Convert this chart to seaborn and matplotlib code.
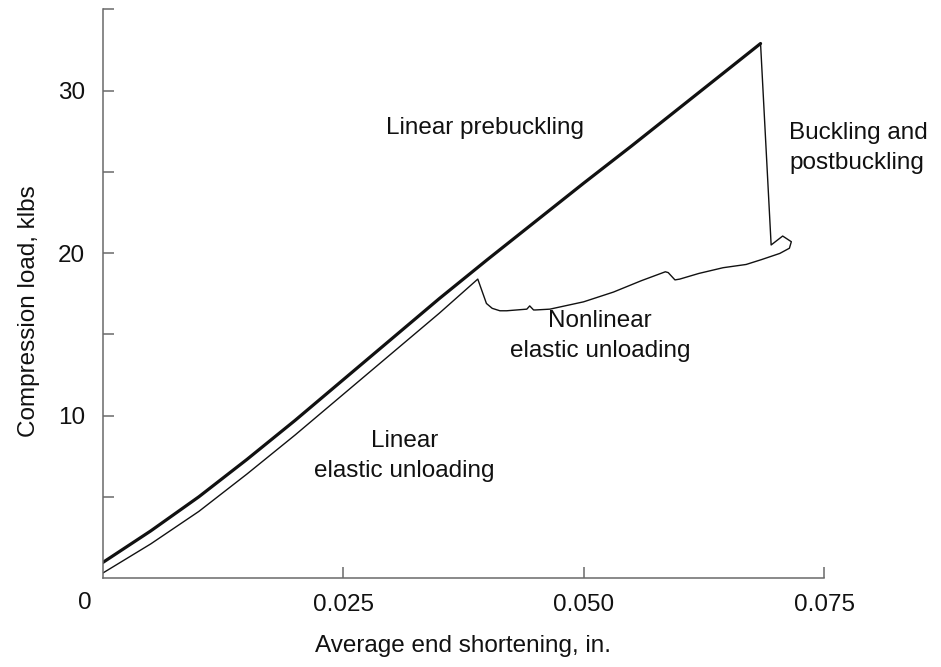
import matplotlib
matplotlib.use("Agg")
import matplotlib.pyplot as plt
import numpy as np
import pandas as pd
import seaborn as sns

# Load-shortening path of the compression specimen (in., klbs)
prebuckling_x = [0.0, 0.005, 0.010, 0.015, 0.020, 0.025, 0.030, 0.035, 0.040,
                 0.045, 0.050, 0.055, 0.060, 0.065, 0.0684]
prebuckling_y = [0.95, 2.9, 5.0, 7.3, 9.7, 12.2, 14.7, 17.2, 19.6,
                 21.95, 24.3, 26.6, 28.95, 31.3, 32.9]

buckling_x = [0.0684, 0.0695, 0.0707, 0.0716, 0.0714]
buckling_y = [32.9, 20.5, 21.05, 20.7, 20.3]

nonlinear_x = [0.0714, 0.0704, 0.0685, 0.0669, 0.0645, 0.0620, 0.0600, 0.0595,
               0.0588, 0.0585, 0.0560, 0.0531, 0.0500, 0.0465, 0.0450, 0.0448,
               0.0444, 0.0441, 0.0420, 0.0413, 0.0405, 0.0399, 0.0390]
nonlinear_y = [20.3, 19.98, 19.6, 19.3, 19.1, 18.75, 18.4, 18.35,
               18.8, 18.85, 18.3, 17.6, 17.0, 16.55, 16.5, 16.5,
               16.75, 16.55, 16.45, 16.45, 16.6, 16.9, 18.4]

linear_unload_x = [0.039, 0.035, 0.030, 0.025, 0.020, 0.015, 0.010, 0.005, 0.0]
linear_unload_y = [18.4, 16.3, 13.8, 11.3, 8.8, 6.4, 4.1, 2.1, 0.3]

y_ticks = [5, 10, 15, 20, 25, 30, 35]
y_tick_labels = ["", "10", "", "20", "", "30", ""]
x_ticks = [0.025, 0.050, 0.075]
x_tick_labels = ["0.025", "0.050", "0.075"]

sns.set_style("ticks")
plt.rcParams["font.family"] = ["Liberation Sans", "DejaVu Sans"]

fig = plt.figure(figsize=(9.41, 6.67), dpi=100)
ax = fig.add_axes([0.1091, 0.1334, 0.7666, 0.8525])

ink = "#111111"
axis_grey = "#6a6a6a"
fs = 17.5

thick = pd.DataFrame({"x": prebuckling_x, "y": prebuckling_y})
sns.lineplot(data=thick, x="x", y="y", sort=False, color=ink, linewidth=2.3,
             ax=ax, estimator=None)

thin_x = buckling_x + nonlinear_x[1:] + linear_unload_x[1:]
thin_y = buckling_y + nonlinear_y[1:] + linear_unload_y[1:]
thin = pd.DataFrame({"x": thin_x, "y": thin_y})
sns.lineplot(data=thin, x="x", y="y", sort=False, color=ink, linewidth=1.0,
             ax=ax, estimator=None)

ax.set_xlim(0, 0.075)
ax.set_ylim(0, 35)
ax.set_xticks(x_ticks)
ax.set_xticklabels(x_tick_labels)
ax.set_yticks(y_ticks)
ax.set_yticklabels(y_tick_labels)

sns.despine(ax=ax)
for side in ("left", "bottom"):
    ax.spines[side].set_color(axis_grey)
    ax.spines[side].set_linewidth(1.1)
ax.tick_params(direction="in", length=8, width=1.1, color=axis_grey,
               labelsize=fs, labelcolor=ink)
ax.tick_params(axis="x", pad=11.5)
ax.tick_params(axis="y", pad=12.5)

ax.annotate("0", xy=(0, 0), xytext=(-18, -25), textcoords="offset pixels",
            ha="center", va="center", fontsize=fs, color=ink)

ax.set_xlabel("Average end shortening, in.", fontsize=fs, color=ink,
              labelpad=14)
ax.set_ylabel("Compression load, klbs", fontsize=fs, color=ink,
              labelpad=16)
ax.yaxis.set_label_coords(-0.087, 0.47)

label_kw = dict(fontsize=fs, color=ink, linespacing=1.45)
ax.text(0.0397, 27.7, "Linear prebuckling", ha="center", va="center", **label_kw)
ax.text(0.0714, 26.45, "Buckling and\npostbuckling", ha="left", va="center",
        **label_kw)
ax.text(0.0517, 14.9, "Nonlinear\nelastic unloading", ha="center",
        va="center", **label_kw)
ax.text(0.0314, 7.5, "Linear\nelastic unloading", ha="center", va="center",
        **label_kw)

fig.savefig("out.png", dpi=100)
